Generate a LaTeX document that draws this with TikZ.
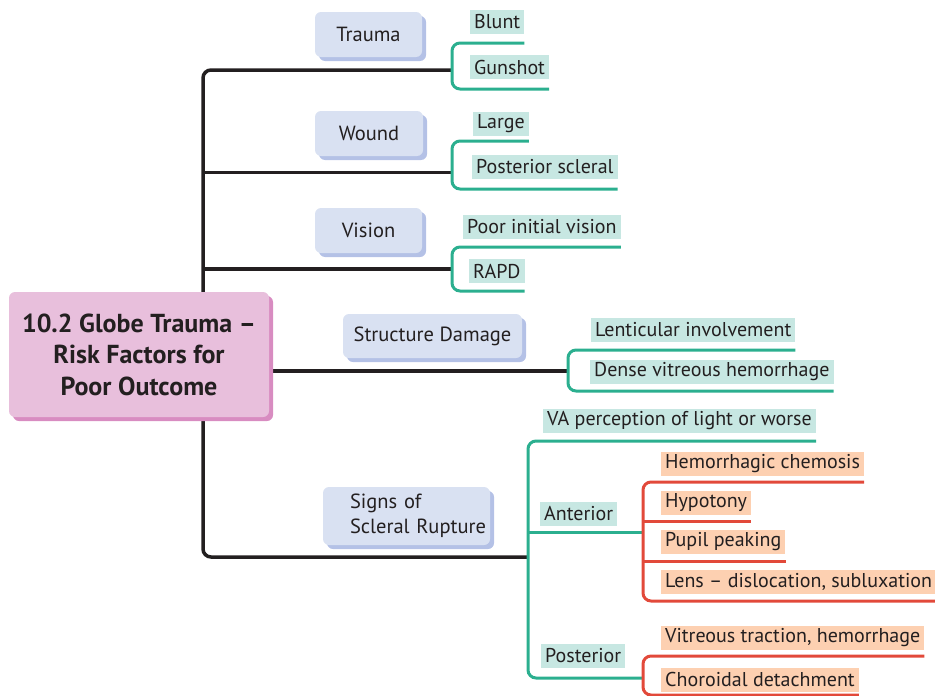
\documentclass[tikz,border=0pt]{standalone}
\usepackage{fontspec}
\setmainfont{PT Sans}
\usetikzlibrary{shadows,backgrounds}
\definecolor{inkc}{HTML}{231F20}
\definecolor{glinec}{HTML}{2BAF8F}
\definecolor{rlinec}{HTML}{E2493A}
\definecolor{hlgreen}{HTML}{C7E7E2}
\definecolor{hlorange}{HTML}{FDD0B1}
\definecolor{bluebox}{HTML}{D9E1F2}
\definecolor{blueshadow}{HTML}{B4C1E6}
\definecolor{pinkbox}{HTML}{E8BFDC}
\definecolor{pinkshadow}{HTML}{D88CC1}
\tikzset{
  leafbase/.style={anchor=west, inner xsep=4pt, inner ysep=0pt, minimum height=24pt,
    text=inkc, font=\fontsize{20}{22}\selectfont},
  lg/.style={leafbase, fill=hlgreen},
  lo/.style={leafbase, fill=hlorange},
  catbox/.style={fill=bluebox, rounded corners=6pt, text=inkc, font=\fontsize{20.5}{25}\selectfont,
    drop shadow={shadow xshift=4pt, shadow yshift=-4pt, fill=blueshadow, opacity=1}},
  rootbox/.style={fill=pinkbox, rounded corners=6pt, text=inkc, align=center,
    font=\fontsize{26}{31.5}\selectfont\bfseries,
    drop shadow={shadow xshift=4pt, shadow yshift=-4pt, fill=pinkshadow, opacity=1}},
  bline/.style={draw=inkc, line width=3.5pt, rounded corners=8pt},
  gline/.style={draw=glinec, line width=3pt, rounded corners=8pt},
  rline/.style={draw=rlinec, line width=3pt, rounded corners=8pt}
}
\begin{document}
\begin{tikzpicture}[x=1pt,y=-1pt]
\useasboundingbox (0,0) rectangle (935,696);

% root
\node[rootbox, minimum width=260pt, minimum height=125pt] (root) at (139,354.5)
  {10.2 Globe Trauma --\\Risk Factors for\\Poor Outcome};

% category boxes
\node[catbox, minimum width=107pt, minimum height=45pt] (trauma) at (368.5,34.5) {Trauma};
\node[catbox, minimum width=108pt, minimum height=45pt] (wound) at (369,133.5) {Wound};
\node[catbox, minimum width=107pt, minimum height=45pt] (vision) at (368.5,230.5) {Vision};
\node[catbox, minimum width=179pt, minimum height=44pt] (struct) at (432.5,336) {Structure Damage};
\node[catbox, minimum width=167pt, minimum height=58pt, text width=161pt, inner xsep=3pt, align=left] (signs) at (406.5,516)
  {\hspace*{24pt}Signs of\\\hspace*{24pt}Scleral Rupture};

% leaves
\node[lg] (blunt) at (470,22) {Blunt};
\node[lg] (gunshot) at (470,67) {Gunshot};
\node[lg] (large) at (473,123.5) {Large};
\node[lg] (postscl) at (472,166.5) {Posterior scleral};
\node[lg] (poor) at (463,226.5) {Poor initial vision};
\node[lg] (rapd) at (469,271) {RAPD};
\node[lg] (lent) at (591,330) {Lenticular involvement};
\node[lg] (dense) at (590,371.5) {Dense vitreous hemorrhage};
\node[lg] (va) at (543,420.5) {VA perception of light or worse};
\node[lg] (ant) at (540,514) {Anterior};
\node[lg] (post) at (541,656) {Posterior};
\node[lo] (hemo) at (661,464) {Hemorrhagic chemosis};
\node[lo] (hypo) at (661,502.5) {Hypotony};
\node[lo] (pupil) at (661,542) {Pupil peaking};
\node[lo] (lens) at (661,582) {Lens -- dislocation, subluxation};
\node[lo] (vit) at (661,638) {Vitreous traction, hemorrhage};
\node[lo] (chor) at (661,679.5) {Choroidal detachment};

% junction coordinates
\coordinate (tJ) at (452,70);
\coordinate (wJ) at (452,172.5);
\coordinate (vJ) at (452,269);
\coordinate (sdJ) at (568,371);
\coordinate (sJ) at (528,557);
\coordinate (abJ) at (643,532);
\coordinate (pbJ) at (643,678);
\coordinate (trunkTop) at (203,70);
\coordinate (trunkBot) at (203,557);

\begin{scope}[on background layer]
% black trunk and branches
\draw[bline] (tJ) -- (trunkTop) -- (trunkBot) -- (sJ);
\draw[bline] (trunkTop |- wJ) -- (wJ);
\draw[bline] (trunkTop |- vJ) -- (vJ);
\draw[bline] (root.east |- sdJ) -- (sdJ);
% green brackets
\draw[gline] (blunt.east |- 0,43) -| (tJ) |- (gunshot.east |- 0,89);
\draw[gline] (large.east |- 0,141) -| (wJ) |- (postscl.east |- 0,189);
\draw[gline] (poor.east |- 0,247) -| (vJ) |- (rapd.east |- 0,291);
\draw[gline] (lent.east |- 0,350) -| (sdJ) |- (dense.east |- 0,391);
\draw[gline] (va.east |- 0,441) -| (sJ) |- (pbJ);
\draw[gline] (sJ |- abJ) -- (abJ);
% red brackets
\draw[rline] (hemo.east |- 0,482) -| (abJ) |- (lens.east |- 0,601);
\draw[rline] (abJ |- 0,521) -- (hypo.east |- 0,521);
\draw[rline] (abJ |- 0,561) -- (pupil.east |- 0,561);
\draw[rline] (vit.east |- 0,656) -| (pbJ) |- (chor.east |- 0,695);
\end{scope}
\end{tikzpicture}
\end{document}
